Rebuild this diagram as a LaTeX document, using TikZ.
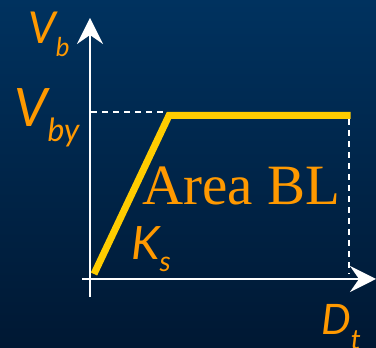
\documentclass[tikz,border=0pt]{standalone}
\usepackage{fontspec}
\usepackage{tikz}
\usetikzlibrary{arrows.meta,positioning}
\newfontfamily\labfont{Lato}
\newfontfamily\areafont{Liberation Serif}
\definecolor{bgtop}{HTML}{00325F}
\definecolor{bgbot}{HTML}{001833}
\definecolor{curve}{HTML}{FFCC00}
\definecolor{lab}{HTML}{FF9900}
\newcommand{\fsz}[1]{\fontsize{#1}{#1}\selectfont}
\tikzset{
  axis/.style={draw=white, line width=2pt,
               -{Stealth[length=26pt,width=26pt,inset=9pt]}},
  guide/.style={draw=white, line width=1.5pt, dash pattern=on 6pt off 5pt},
  bilin/.style={draw=curve, line width=7pt, line join=miter},
  axlabel/.style={text=lab, inner sep=0pt, anchor=base west,
                  font=\labfont\itshape}
}
\begin{document}
\begin{tikzpicture}[x=1pt,y=1pt]
        \shade[top color=bgtop,bottom color=bgbot] (0,0) rectangle (376,348);
        \useasboundingbox (0,0) rectangle (376,348);
        % axes
        \coordinate (ybot) at (90,51);
        \coordinate (ytop) at (90,330);
        \coordinate (xleft) at (82,69);
        \coordinate (xright) at (376,69);
        \draw[axis] (ybot) -- (ytop);
        \draw[axis] (xleft) -- (xright);
        % bilinear curve
        \coordinate (org) at (94,74);
        \coordinate (yld) at (169,232.5);
        \coordinate (fin) at (350.5,232.5);
        \coordinate (vby) at (91,236);
        \coordinate (vbyend) at (165,236);
        \coordinate (dtop) at (349,229);
        \coordinate (dbot) at (349,74);
        \draw[guide] (vby) -- (vbyend);
        \draw[guide] (dtop) -- (dbot);
        \draw[bilin] (org) -- (yld) -- (fin);
        % labels
        \node[axlabel] (vb) at (28,304) {\fsz{44}V\raisebox{-13pt}{\fsz{26}b}};
        \node[axlabel] (vbylab) at (14,221) {\fsz{53}V\raisebox{-15pt}{\fsz{32}by}};
        \node[axlabel] (ks) at (131,88) {\fsz{46}K\raisebox{-12pt}{\fsz{28}s}};
        \node[axlabel] (dt) at (321,13) {\fsz{42}D\raisebox{-15pt}{\fsz{28}t}};
        \node[text=lab, inner sep=0pt, anchor=base west, font=\areafont\fsz{57}] (area) at (142,143) {Area BL};
      \end{tikzpicture}
\end{document}
